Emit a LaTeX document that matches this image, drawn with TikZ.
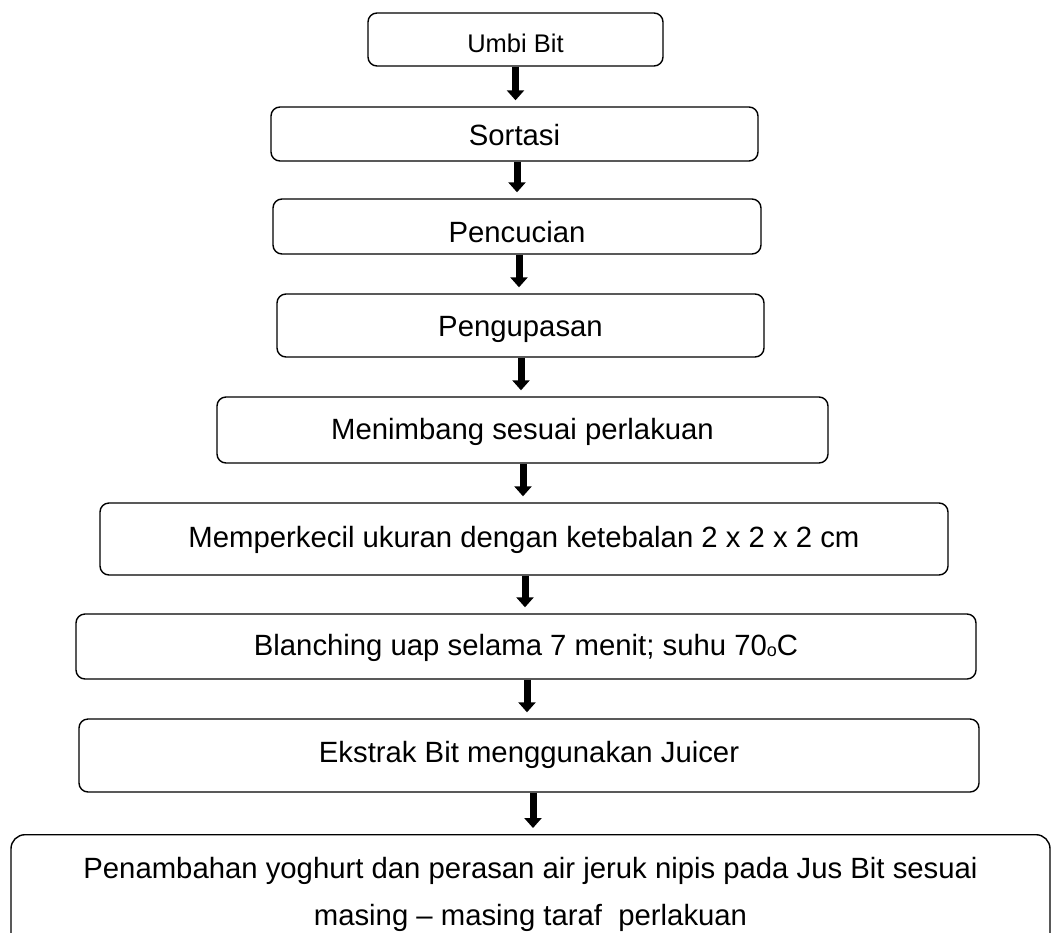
\documentclass[tikz,border=0pt]{standalone}
\usepackage{fontspec}
\setmainfont{Liberation Sans}
\usetikzlibrary{arrows.meta}
\tikzset{
  box/.style={draw, line width=1.4pt, rounded corners=9pt, inner sep=0pt, text depth=0pt,
    font=\fontsize{29.3}{35}\selectfont},
  arr/.style={line width=7pt, -{Triangle[width=17pt,length=10pt]}, shorten >=6pt}
}
\begin{document}
\begin{tikzpicture}[x=1pt,y=-1pt]
\useasboundingbox (0,0) rectangle (1051,932);
\clip (0,0) rectangle (1051,932);

\node[box, minimum width=295pt, minimum height=53pt, text height=25pt, font=\fontsize{25.5}{30}\selectfont] (b1) at (515.5,39.5) {Umbi Bit};
\node[box, minimum width=487pt, minimum height=54pt, text height=22pt] (b2) at (514.5,134) {Sortasi};
\node[box, minimum width=488pt, minimum height=55pt, text height=31pt] (b3) at (517,226.5) {Pencucian};
\node[box, minimum width=487pt, minimum height=63pt, text height=22pt] (b4) at (520.5,325.5) {Pengupasan};
\node[box, minimum width=611pt, minimum height=66pt, text height=18pt] (b5) at (522.5,430) {Menimbang sesuai perlakuan};
\node[box, minimum width=848pt, minimum height=72pt, text height=16pt] (b6) at (524,539) {Memperkecil ukuran dengan ketebalan 2 x 2 x 2 cm};
\node[box, minimum width=900pt, minimum height=65pt, text height=17pt] (b7) at (526,646.5) {Blanching uap selama 7 menit; suhu 70\raisebox{-0.05em}{\fontsize{18}{18}\selectfont o}C};
\node[box, minimum width=900pt, minimum height=73pt, text height=13pt] (b8) at (529,755.5) {Ekstrak Bit menggunakan Juicer};
\node[draw, line width=1.4pt, rounded corners=14pt, minimum width=1039pt, inner xsep=0pt, inner ysep=23pt,
  anchor=north, align=center, font=\fontsize{29.3}{47}\selectfont] (b9) at (530.5,834)
  {Penambahan yoghurt dan perasan air jeruk nipis pada Jus Bit sesuai\\masing -- masing taraf\ \ perlakuan};

\draw[arr] (b1.south) -- (b1.south |- b2.north);
\draw[arr] ([xshift=2.5pt]b2.south) -- ([xshift=2.5pt]b2.south |- b3.north);
\draw[arr] ([xshift=2pt]b3.south) -- ([xshift=2pt]b3.south |- b4.north);
\draw[arr] ([xshift=0.5pt]b4.south) -- ([xshift=0.5pt]b4.south |- b5.north);
\draw[arr] ([xshift=0.5pt]b5.south) -- ([xshift=0.5pt]b5.south |- b6.north);
\draw[arr] ([xshift=1pt]b6.south) -- ([xshift=1pt]b6.south |- b7.north);
\draw[arr] ([xshift=1pt]b7.south) -- ([xshift=1pt]b7.south |- b8.north);
\draw[arr] ([xshift=4pt]b8.south) -- ([xshift=4pt]b8.south |- b9.north);
\end{tikzpicture}
\end{document}
